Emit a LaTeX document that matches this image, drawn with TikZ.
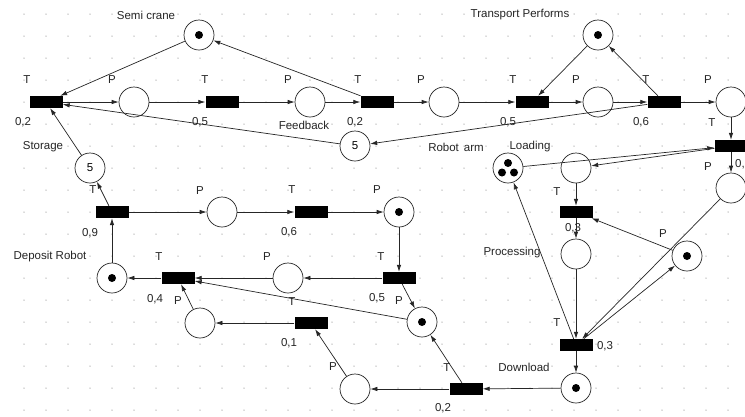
\documentclass[tikz,border=0pt]{standalone}
\usepackage{fontspec}
\setmainfont{Liberation Sans}
\usetikzlibrary{arrows.meta}
\begin{document}
\begin{tikzpicture}[x=1pt,y=-1pt,
  place/.style={circle,draw=black!85,fill=white,line width=0.7pt,minimum size=30pt,inner sep=0pt,
                font=\fontsize{11.5}{13}\selectfont},
  marked/.style={place,path picture={\fill[black] (path picture bounding box.center) circle (4pt);}},
  triple/.style={place,path picture={
      \fill[black] ([yshift=5pt]path picture bounding box.center) circle (4pt);
      \fill[black] ([xshift=-6pt,yshift=-4.5pt]path picture bounding box.center) circle (4pt);
      \fill[black] ([xshift=6pt,yshift=-4.5pt]path picture bounding box.center) circle (4pt);}},
  trans/.style={rectangle,fill=black,minimum width=33pt,minimum height=12pt,inner sep=0pt},
  arc/.style={draw=black!85,line width=0.7pt,-{Latex[length=7pt,width=4.5pt]}},
  lbl/.style={font=\fontsize{11.5}{13}\selectfont,text=black!85,inner sep=0pt}]

\useasboundingbox (0,0) rectangle (745,416);
\fill[white] (0,0) rectangle (745,416);

% dotted editing grid
\foreach \i in {1,...,33}
  \foreach \j in {0,...,18}
    \fill[black!28] (2+22*\i,14+22*\j) circle (0.75pt);

% transitions
\node[trans] (T1)  at (46,102) {};
\node[trans] (T2)  at (222,102) {};
\node[trans] (T3)  at (377,102) {};
\node[trans] (T4)  at (532,102) {};
\node[trans] (T5)  at (664,102) {};
\node[trans] (T6)  at (731,146) {};
\node[trans] (T7)  at (576,212) {};
\node[trans] (T8)  at (576,345) {};
\node[trans] (T9)  at (466,389) {};
\node[trans] (T10) at (311,323) {};
\node[trans] (T11) at (399,278) {};
\node[trans] (T12) at (311,212) {};
\node[trans] (T13) at (112,212) {};
\node[trans] (T14) at (178,278) {};

% places
\node[marked] (SC)  at (199,35) {};
\node[place]  (P1)  at (134,102) {};
\node[place]  (P2)  at (310,102) {};
\node[place]  (P3)  at (444,102) {};
\node[marked] (TP)  at (598,35) {};
\node[place]  (P4)  at (598,102) {};
\node[place]  (P5)  at (731,102) {};
\node[place]  (P6)  at (731,188) {};
\node[place]  (FB)  at (355,146) {5};
\node[place]  (ST)  at (90,168) {5};
\node[triple] (LD)  at (508,168) {};
\node[place]  (P7)  at (576,168) {};
\node[place]  (P8)  at (576,254) {};
\node[marked] (P9)  at (687,256) {};
\node[marked] (P10) at (576,388) {};
\node[place]  (P11) at (355,389) {};
\node[marked] (P12) at (422,322) {};
\node[place]  (P13) at (288,278) {};
\node[marked] (P14) at (399,212) {};
\node[place]  (P15) at (222,212) {};
\node[marked] (DR)  at (112,278) {};
\node[place]  (P16) at (200,323) {};

% arcs
\draw[arc] (SC) -- (T1);
\draw[arc] (T1) -- (P1);
\draw[arc] (P1) -- (T2);
\draw[arc] (T2) -- (P2);
\draw[arc] (P2) -- (T3);
\draw[arc] (T3) -- (SC);
\draw[arc] (T3) -- (P3);
\draw[arc] (P3) -- (T4);
\draw[arc] (T4) -- (P4);
\draw[arc] (P4) -- (T5);
\draw[arc] (T5) -- (P5);
\draw[arc] (TP) -- (T4);
\draw[arc] (T5) -- (TP);
\draw[arc] (FB) -- (T1);
\draw[arc] (T5) -- (FB);
\draw[arc] (ST) -- (T1);
\draw[arc] (T13) -- (ST);
\draw[arc] (T13) -- (P15);
\draw[arc] (P15) -- (T12);
\draw[arc] (T12) -- (P14);
\draw[arc] (P14) -- (T11);
\draw[arc] (T11) -- (P13);
\draw[arc] (P13) -- (T14);
\draw[arc] (T14) -- (DR);
\draw[arc] (DR) -- (T13);
\draw[arc] (T11) -- (P12);
\draw[arc] (P12) -- (T14);
\draw[arc] (P16) -- (T14);
\draw[arc] (T10) -- (P16);
\draw[arc] (P11) -- (T10);
\draw[arc] (T9) -- (P11);
\draw[arc] (T9) -- (P12);
\draw[arc] (P10) -- (T9);
\draw[arc] (T8) -- (P10);
\draw[arc] (P8) -- (T8);
\draw[arc] (T7) -- (P8);
\draw[arc] (P7) -- (T7);
\draw[arc] (P9) -- (T7);
\draw[arc] (P6) -- (T8);
\draw[arc] (T8) -- (P9);
\draw[arc] (T8) -- (LD);
\draw[arc] (LD) -- (T6);
\draw[arc] (T6) -- (P7);
\draw[arc] (P5) -- (T6);
\draw[arc] (T6) -- (P6);

% transition labels
\node[lbl] (tT1)  at (27,80)  {T};
\node[lbl] (tT2)  at (205,80) {T};
\node[lbl] (tT3)  at (358,80) {T};
\node[lbl] (tT4)  at (513,80) {T};
\node[lbl] (tT5)  at (646,80) {T};
\node[lbl] (tT6)  at (712,123) {T};
\node[lbl] (tT7)  at (557,192) {T};
\node[lbl] (tT8)  at (557,323) {T};
\node[lbl] (tT9)  at (447,368) {T};
\node[lbl] (tT10) at (292,302) {T};
\node[lbl] (tT11) at (381,257) {T};
\node[lbl] (tT12) at (292,190) {T};
\node[lbl] (tT13) at (93,190)  {T};
\node[lbl] (tT14) at (159,257) {T};

% firing rates
\node[lbl] (rT1)  at (23,122)  {0,2};
\node[lbl] (rT2)  at (200,122) {0,5};
\node[lbl] (rT3)  at (355,122) {0,2};
\node[lbl] (rT4)  at (508,122) {0,5};
\node[lbl] (rT5)  at (641,122) {0,6};
\node[lbl,anchor=west] (rT6) at (735,164) {0,3};
\node[lbl] (rT7)  at (573,228) {0,3};
\node[lbl] (rT8)  at (605,346) {0,3};
\node[lbl] (rT9)  at (443,408) {0,2};
\node[lbl] (rT10) at (289,343) {0,1};
\node[lbl] (rT11) at (377,298) {0,5};
\node[lbl] (rT12) at (289,232) {0,6};
\node[lbl] (rT13) at (90,233)  {0,9};
\node[lbl] (rT14) at (155,299) {0,4};

% place labels
\node[lbl] (pP1)  at (112,80)  {P};
\node[lbl] (pP2)  at (288,80)  {P};
\node[lbl] (pP3)  at (421,80)  {P};
\node[lbl] (pP4)  at (576,80)  {P};
\node[lbl] (pP5)  at (708,80)  {P};
\node[lbl] (pP6)  at (708,167) {P};
\node[lbl] (pP9)  at (663,234) {P};
\node[lbl] (pP11) at (333,367) {P};
\node[lbl] (pP12) at (399,301) {P};
\node[lbl] (pP13) at (267,257) {P};
\node[lbl] (pP14) at (377,190) {P};
\node[lbl] (pP15) at (200,191) {P};
\node[lbl] (pP16) at (178,301) {P};

% names
\node[lbl] (nSC) at (146,15)  {Semi crane};
\node[lbl] (nTP) at (520,15)  {Transport Performs};
\node[lbl] (nFB) at (304,125) {Feedback};
\node[lbl] (nRA) at (456,147) {Robot\hspace{5pt}arm};
\node[lbl] (nST) at (43,147)  {Storage};
\node[lbl] (nLD) at (530,147) {Loading};
\node[lbl] (nDR) at (50,257)  {Deposit Robot};
\node[lbl] (nPR) at (512,253) {Processing};
\node[lbl] (nDL) at (524,367) {Download};
\end{tikzpicture}
\end{document}
